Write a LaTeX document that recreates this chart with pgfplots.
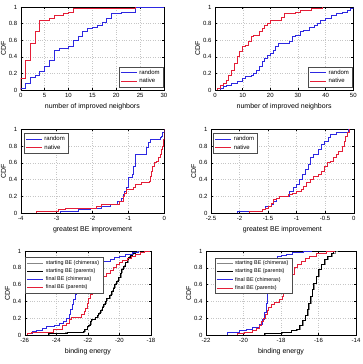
\documentclass[border=0pt]{standalone}
\usepackage{pgfplots}
\pgfplotsset{compat=1.18}
\usepackage{fontspec}
\setmainfont{Liberation Sans}

\definecolor{mblue}{RGB}{45,40,225}
\definecolor{mred}{RGB}{228,30,55}
\definecolor{mgray}{RGB}{135,135,135}

\pgfplotsset{
  cdf/.style={
    scale only axis,
    anchor=north west,
    ymin=0, ymax=1,
    ytick={0,0.2,0.4,0.6,0.8,1},
    grid=major,
    major grid style={dotted, gray!45, line width=0.3pt},
    axis line style={line width=0.4pt},
    tick align=inside,
    major tick length=2pt,
    tick style={line width=0.35pt, black},
    ticklabel style={font=\fontsize{6}{7}\selectfont},
    label style={font=\fontsize{7}{8}\selectfont},
    ylabel={CDF},
    ylabel shift=-4pt,
    xlabel shift=-1pt,
    /pgf/number format/assume math mode=true,
    legend cell align=left,
    legend style={font=\fontsize{6}{7}\selectfont, draw=black!70, line width=0.35pt,
      inner xsep=1.5pt, inner ysep=0.8pt, row sep=-1.2pt},
    legend image code/.code={\draw[#1] (0pt,0pt) -- (16pt,0pt);},
  },
  small legend/.style={legend style={font=\fontsize{5.4}{6.3}\selectfont}},
  cdfline/.style={const plot, line width=0.8pt},
}

\begin{document}
\begin{tikzpicture}
\path[use as bounding box] (0,0) rectangle (362pt,364pt);

% ---- number of improved neighbors, left
\begin{axis}[cdf, at={(20.7pt,357pt)}, width=143.3pt, height=83pt,
  xmin=0, xmax=30, xtick={0,5,...,30},
  xlabel={number of improved neighbors},
  legend style={at={(0.995,0.033)}, anchor=south east}]
\addplot[cdfline, mblue] coordinates {(0,0) (0,0.02) (1,0.08) (2,0.15) (3,0.18) (4,0.23) (5,0.28) (6,0.36) (7,0.48) (8,0.50) (10,0.52) (11,0.60) (12,0.64) (13,0.70) (14,0.74) (15,0.76) (16,0.78) (17,0.81) (18,0.86) (19,0.92) (21,0.94) (24,1) (30,1)};
\addplot[cdfline, mred] coordinates {(0,0) (0,0.14) (1,0.36) (2,0.56) (3,0.70) (4,0.84) (6,0.86) (7,0.90) (9,0.92) (10,0.94) (11,0.98) (24,1)};
\legend{random, native}
\end{axis}

% ---- number of improved neighbors, right
\begin{axis}[cdf, at={(215pt,357pt)}, width=138.3pt, height=83pt,
  xmin=0, xmax=50, xtick={0,10,...,50},
  xlabel={number of improved neighbors},
  legend style={at={(0.995,0.033)}, anchor=south east}]
\addplot[cdfline, mblue] coordinates {(2,0) (2,0.02) (3,0.04) (4,0.06) (6,0.08) (8,0.10) (10,0.14) (11,0.16) (13,0.18) (14,0.20) (15,0.24) (16,0.28) (17,0.34) (18,0.38) (19,0.42) (20,0.44) (21,0.48) (22,0.52) (23,0.56) (27,0.58) (28,0.64) (29,0.66) (31,0.70) (32,0.72) (34,0.76) (36,0.78) (37,0.80) (38,0.84) (40,0.86) (42,0.90) (44,0.92) (46,0.94) (48,0.96) (49,0.98) (50,1)};
\addplot[cdfline, mred] coordinates {(1,0) (1,0.02) (2,0.05) (3,0.08) (4,0.12) (5,0.18) (6,0.24) (7,0.32) (8,0.40) (9,0.46) (10,0.52) (11,0.54) (12,0.58) (13,0.64) (14,0.66) (16,0.70) (17,0.74) (18,0.78) (19,0.80) (20,0.84) (24,0.88) (25,0.92) (29,0.94) (31,0.96) (35,0.98) (39,1)};
\legend{random, native}
\end{axis}

% ---- greatest BE improvement, left
\begin{axis}[cdf, at={(20.7pt,234.7pt)}, width=143.6pt, height=83.7pt,
  xmin=-4, xmax=0, xtick={-4,-3,-2,-1,0},
  xlabel={greatest BE improvement},
  legend style={at={(0.023,0.952)}, anchor=north west}]
\addplot[cdfline, mblue] coordinates {(-2.9,0) (-2.9,0.02) (-2.4,0.04) (-2.05,0.06) (-1.75,0.08) (-1.5,0.10) (-1.3,0.14) (-1.2,0.18) (-1.15,0.22) (-1.1,0.26) (-1.05,0.30) (-1.0,0.42) (-0.9,0.46) (-0.85,0.56) (-0.8,0.70) (-0.5,0.78) (-0.45,0.84) (-0.4,0.88) (-0.12,0.90) (-0.08,0.92) (-0.04,0.96) (-0.01,1)};
\addplot[cdfline, mred] coordinates {(-3.55,0) (-3.55,0.02) (-2.95,0.04) (-2.75,0.06) (-1.9,0.08) (-1.75,0.10) (-1.25,0.14) (-1.15,0.20) (-1.1,0.24) (-1.05,0.28) (-0.85,0.30) (-0.8,0.34) (-0.65,0.36) (-0.42,0.38) (-0.38,0.44) (-0.35,0.50) (-0.32,0.56) (-0.28,0.60) (-0.22,0.62) (-0.16,0.66) (-0.1,0.70) (-0.07,0.76) (-0.04,0.80) (-0.02,0.88) (0,1)};
\legend{random, native}
\end{axis}

% ---- greatest BE improvement, right
\begin{axis}[cdf, at={(211pt,234.7pt)}, width=142.7pt, height=83.7pt,
  xmin=-2.5, xmax=0, xtick={-2.5,-2,-1.5,-1,-0.5,0},
  xlabel={greatest BE improvement},
  legend style={at={(0.016,0.952)}, anchor=north west}]
\addplot[cdfline, mblue] coordinates {(-2.04,0) (-2.04,0.02) (-1.6,0.04) (-1.55,0.08) (-1.45,0.10) (-1.4,0.14) (-1.35,0.18) (-1.3,0.20) (-1.12,0.26) (-1.05,0.30) (-1.0,0.34) (-0.95,0.40) (-0.9,0.46) (-0.85,0.52) (-0.8,0.58) (-0.75,0.66) (-0.7,0.70) (-0.62,0.76) (-0.56,0.82) (-0.52,0.86) (-0.45,0.90) (-0.4,0.94) (-0.3,0.96) (-0.09,1)};
\addplot[cdfline, mred] coordinates {(-1.82,0) (-1.82,0.02) (-1.6,0.04) (-1.55,0.06) (-1.5,0.08) (-1.45,0.12) (-1.4,0.16) (-1.35,0.18) (-1.3,0.20) (-1.15,0.22) (-1.08,0.24) (-1.0,0.26) (-0.92,0.28) (-0.88,0.32) (-0.82,0.36) (-0.76,0.40) (-0.7,0.44) (-0.62,0.46) (-0.57,0.50) (-0.52,0.56) (-0.46,0.60) (-0.4,0.62) (-0.35,0.66) (-0.3,0.70) (-0.26,0.74) (-0.2,0.80) (-0.17,0.86) (-0.14,0.92) (-0.11,0.96) (-0.07,1)};
\legend{random, native}
\end{axis}

% ---- binding energy, left
\begin{axis}[cdf, small legend, at={(24.7pt,113pt)}, width=126.3pt, height=84pt,
  xmin=-26, xmax=-18, xtick={-26,-24,-22,-20,-18},
  xlabel={binding energy},
  legend style={at={(0.005,0.923)}, anchor=north west}]
\addplot[cdfline, mgray] coordinates {(-24.45,0) (-24.45,0.02) (-23.4,0.03) (-22.25,0.04) (-22.15,0.07) (-22.0,0.10) (-21.9,0.13) (-21.8,0.17) (-21.7,0.19) (-21.5,0.21) (-21.35,0.24) (-21.25,0.27) (-21.15,0.30) (-21.05,0.34) (-20.95,0.38) (-20.85,0.41) (-20.75,0.44) (-20.6,0.48) (-20.45,0.53) (-20.35,0.57) (-20.25,0.61) (-20.15,0.65) (-20.02,0.69) (-19.9,0.74) (-19.8,0.79) (-19.7,0.83) (-19.6,0.87) (-19.45,0.91) (-19.35,0.93) (-19.25,0.96) (-19.1,0.98) (-18.95,0.99) (-18.75,1)};
\addplot[cdfline, black] coordinates {(-24.5,0) (-24.5,0.02) (-23.3,0.03) (-22.3,0.04) (-22.2,0.07) (-22.05,0.10) (-21.95,0.12) (-21.85,0.16) (-21.75,0.19) (-21.55,0.21) (-21.4,0.23) (-21.3,0.26) (-21.2,0.29) (-21.1,0.33) (-21.0,0.37) (-20.9,0.40) (-20.8,0.43) (-20.65,0.47) (-20.5,0.52) (-20.4,0.56) (-20.3,0.60) (-20.2,0.64) (-20.07,0.68) (-19.95,0.73) (-19.85,0.78) (-19.75,0.82) (-19.65,0.86) (-19.5,0.90) (-19.4,0.92) (-19.3,0.95) (-19.2,0.97) (-19.0,0.99) (-18.9,1)};
\addplot[cdfline, mblue] coordinates {(-25.8,0) (-25.8,0.02) (-25.5,0.04) (-25.25,0.06) (-24.9,0.08) (-24.6,0.10) (-24.1,0.12) (-23.8,0.14) (-23.55,0.16) (-23.35,0.20) (-23.2,0.24) (-23.1,0.30) (-23.0,0.36) (-22.9,0.42) (-22.8,0.48) (-22.7,0.54) (-22.6,0.60) (-22.4,0.66) (-22.2,0.72) (-22.0,0.76) (-21.7,0.80) (-21.5,0.84) (-21.3,0.86) (-21.0,0.88) (-20.6,0.90) (-20.3,0.92) (-20.0,0.94) (-19.6,0.96) (-19.2,0.98) (-18.8,1)};
\addplot[cdfline, mred] coordinates {(-25.85,0) (-25.85,0.02) (-25.6,0.035) (-24.2,0.07) (-23.6,0.11) (-23.35,0.14) (-23.15,0.18) (-23.05,0.21) (-22.4,0.24) (-22.25,0.28) (-22.15,0.32) (-22.05,0.38) (-21.95,0.44) (-21.85,0.48) (-21.7,0.52) (-21.55,0.56) (-21.4,0.62) (-21.25,0.68) (-21.0,0.70) (-20.8,0.73) (-20.55,0.77) (-20.4,0.80) (-20.2,0.84) (-20.0,0.86) (-19.8,0.89) (-19.5,0.91) (-19.25,0.94) (-19.0,0.96) (-18.7,0.98) (-18.4,0.99) (-18.1,1)};
\legend{starting BE (chimeras), starting BE (parents), final BE (chimeras), final BE (parents)}
\end{axis}

% ---- binding energy, right
\begin{axis}[cdf, small legend, at={(206pt,113pt)}, width=150pt, height=84pt,
  xmin=-22, xmax=-14, xtick={-22,-20,-18,-16,-14},
  xlabel={binding energy},
  legend style={at={(0.057,0.92)}, anchor=north west}]
\addplot[cdfline, mgray] coordinates {(-18.85,0) (-18.85,0.02) (-17.95,0.03) (-17.45,0.05) (-17.15,0.07) (-16.98,0.11) (-16.8,0.17) (-16.68,0.23) (-16.56,0.31) (-16.48,0.38) (-16.4,0.46) (-16.31,0.54) (-16.22,0.62) (-16.1,0.70) (-15.96,0.78) (-15.83,0.84) (-15.65,0.90) (-15.45,0.94) (-15.28,0.97) (-15.12,0.99) (-15.0,1)};
\addplot[cdfline, black] coordinates {(-18.9,0) (-18.9,0.02) (-18.0,0.03) (-17.47,0.05) (-17.2,0.07) (-17.02,0.11) (-16.84,0.17) (-16.72,0.23) (-16.6,0.31) (-16.52,0.38) (-16.44,0.46) (-16.35,0.54) (-16.26,0.62) (-16.13,0.70) (-16.0,0.78) (-15.87,0.84) (-15.69,0.90) (-15.5,0.94) (-15.33,0.97) (-15.2,0.99) (-15.1,1)};
\addplot[cdfline, mblue] coordinates {(-20.88,0) (-20.88,0.03) (-20.2,0.05) (-19.87,0.07) (-19.5,0.09) (-19.15,0.13) (-18.98,0.19) (-18.9,0.27) (-18.8,0.38) (-18.71,0.50) (-18.62,0.58) (-18.5,0.70) (-18.4,0.80) (-18.3,0.90) (-18.2,0.93) (-18.0,0.95) (-17.7,0.96) (-17.4,0.98) (-16.8,0.99) (-16.4,1)};
\addplot[cdfline, mred] coordinates {(-20.35,0) (-20.35,0.02) (-19.95,0.03) (-19.5,0.05) (-19.3,0.08) (-19.15,0.12) (-19.05,0.16) (-18.95,0.20) (-18.85,0.24) (-18.75,0.29) (-18.65,0.33) (-18.5,0.36) (-18.35,0.39) (-18.1,0.42) (-17.95,0.46) (-17.85,0.50) (-17.73,0.54) (-17.62,0.58) (-17.55,0.64) (-17.45,0.72) (-17.3,0.80) (-17.1,0.84) (-16.9,0.88) (-16.7,0.91) (-16.5,0.94) (-16.1,0.97) (-15.6,0.99) (-15.15,1)};
\legend{starting BE (chimeras), starting BE (parents), final BE (chimeras), final BE (parents)}
\end{axis}
\end{tikzpicture}
\end{document}
